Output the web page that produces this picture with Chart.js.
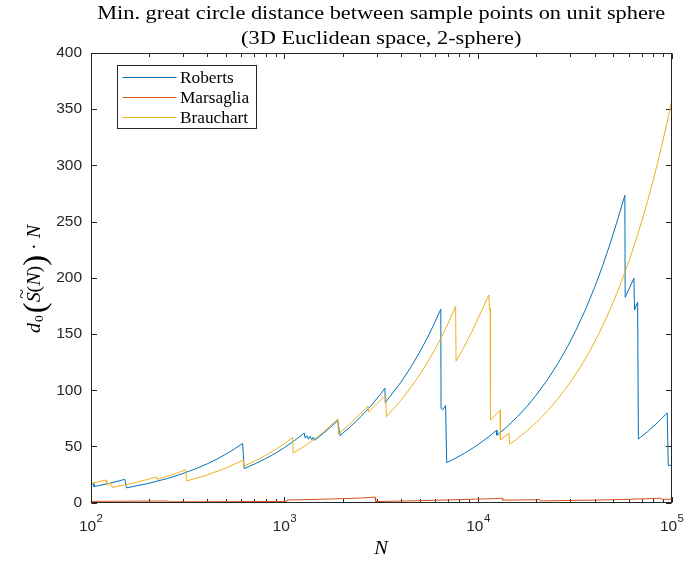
<!DOCTYPE html>
<html>
<head>
<meta charset="utf-8">
<script src="https://cdn.jsdelivr.net/npm/chart.js@4.4.0/dist/chart.umd.min.js"></script>
<style>
  html, body { margin: 0; padding: 0; background: #ffffff; }
  #wrap { width: 686px; height: 565px; }
</style>
</head>
<body>
<div id="wrap"><canvas id="c" width="686" height="565"></canvas></div>
<script>
// ---- data -------------------------------------------------------------
const titleLines = [
  'Min. great circle distance between sample points on unit sphere',
  '(3D Euclidean space, 2-sphere)'
];
const seriesNames = ['Roberts', 'Marsaglia', 'Brauchart'];
const seriesColors = ['#0072BD', '#D95319', '#EDB120'];

const robertsN = [100, 103, 104, 125, 150, 153, 200, 250, 300, 350, 400, 450, 500, 550, 609,
  620, 700, 800, 900, 1000, 1100, 1200, 1266, 1280, 1310, 1330, 1360, 1385, 1410, 1430,
  1600, 1750, 1886, 1938, 2200, 2500, 2800, 3100, 3306, 3320, 4000, 4500, 5000, 5500, 6000,
  6425, 6440, 6560, 6800, 6890, 7500, 8500, 9500, 10500, 11500, 12470, 12520, 14000, 16000, 18000,
  20000, 23000, 26000, 29000, 32000, 36000, 40000, 44000, 48000, 52000, 57300, 57500, 63800, 64300, 66700,
  67300, 75000, 85000, 94800, 96000, 100000];
const robertsD = [16.4, 16.9, 14.3, 17.2, 20.8, 13.2, 17.3, 21.6, 26.0, 30.3, 34.6, 38.9, 43.3, 47.6, 52.7,
  30.4, 34.3, 39.2, 44.1, 49.0, 53.9, 58.8, 62.0, 57.5, 59.5, 56.5, 59.0, 56.2, 58.2, 55.5,
  62.0, 67.9, 73.2, 59.7, 67.8, 77.0, 86.2, 95.5, 101.8, 89.0, 107.2, 120.6, 134.0, 147.4, 160.8,
  172.2, 84.0, 82.5, 86.5, 35.6, 38.8, 43.9, 49.1, 54.3, 59.4, 64.4, 60.0, 67.1, 76.7, 86.2,
  95.8, 110.2, 124.5, 138.9, 153.3, 172.4, 191.6, 210.8, 229.9, 249.1, 273.5, 182.7, 199.6, 171.4, 178.3,
  56.7, 63.2, 71.6, 79.8, 32.9, 33.5];

const marsagliaN = [100, 250, 253, 500, 1000, 1030, 1035, 1500, 2000, 2500, 2940, 2960, 5000,
  10000, 12000, 13300, 13400, 20000, 20800, 21000, 40000, 60000, 88000, 89000, 100000];
const marsagliaD = [1.2, 1.5, 0.8, 0.9, 1.1, 1.3, 2.4, 3.0, 3.6, 4.2, 5.0, 1.0, 1.8,
  3.2, 3.6, 4.0, 2.3, 2.6, 2.9, 1.6, 2.3, 3.0, 4.0, 3.0, 3.1];

const brauchartN = [100, 120, 121, 128, 129, 160, 190, 219, 220, 250, 280, 310, 312, 400, 500,
  613, 615, 700, 800, 900, 1000, 1106, 1110, 1300, 1500, 1700, 1890, 1900, 2200, 2500,
  2700, 2720, 3000, 3340, 3360, 4000, 4500, 5000, 5500, 6000, 6500, 7000, 7660, 7700, 8500,
  9500, 10500, 11380, 11450, 11550, 11600, 12990, 13050, 14450, 14550, 16000, 18000, 20000, 23000, 26000,
  30000, 34000, 38000, 42000, 46000, 50000, 55000, 60000, 65000, 70000, 75000, 80000, 85000, 90000, 95000,
  100000];
const brauchartD = [17.0, 20.2, 16.4, 17.2, 13.6, 16.8, 20.0, 23.0, 20.8, 23.6, 26.5, 29.3, 19.3, 24.7, 30.9,
  37.9, 32.3, 36.8, 42.0, 47.3, 52.5, 58.0, 44.0, 51.5, 59.4, 67.3, 74.6, 61.0, 70.6, 80.2,
  86.0, 80.5, 88.0, 95.5, 76.5, 91.0, 102.5, 113.8, 125.2, 136.6, 148.0, 159.4, 174.4, 126.0, 139.0,
  155.4, 171.8, 184.8, 171.5, 172.5, 73.5, 82.3, 55.8, 61.8, 52.0, 57.2, 64.3, 71.5, 82.2, 92.9,
  107.2, 121.5, 135.8, 150.1, 164.4, 178.7, 196.6, 214.4, 232.3, 250.2, 268.0, 285.9, 303.8, 321.7, 339.5,
  357.4];

const yTicks = [0, 50, 100, 150, 200, 250, 300, 350, 400];
const xDecades = [2, 3, 4, 5];

// ---- styling ----------------------------------------------------------
const SERIF = '"Liberation Serif", "DejaVu Serif", serif';
const SANS = '"Liberation Sans", Arial, Helvetica, sans-serif';
const AXIS_COLOR = '#262626';

function toPoints(xs, ys) { return xs.map((x, i) => ({ x: x, y: ys[i] })); }

// text drawn with a horizontal stretch so serif labels get the wider look of the math font
function stretchedText(ctx, text, x, y, font, align, sx) {
  ctx.save();
  ctx.font = font;
  ctx.textBaseline = 'alphabetic';
  const w = ctx.measureText(text).width * sx;
  let left = x;
  if (align === 'center') left = x - w / 2;
  else if (align === 'right') left = x - w;
  ctx.translate(left, y);
  ctx.scale(sx, 1);
  ctx.textAlign = 'left';
  ctx.fillText(text, 0, 0);
  ctx.restore();
  return w;
}

const decorations = {
  id: 'decorations',
  beforeDatasetsDraw(chart) {
    const ctx = chart.ctx;
    const a = chart.chartArea;
    const xs = chart.scales.x, ys = chart.scales.y;
    ctx.save();
    ctx.strokeStyle = AXIS_COLOR;
    ctx.lineWidth = 1;
    const L = Math.round(a.left) + 0.5, R = Math.round(a.right) - 0.5;
    const T = Math.round(a.top) + 0.5, B = Math.round(a.bottom) - 0.5;
    ctx.beginPath();
    // y ticks (inside, both sides)
    yTicks.forEach(v => {
      const y = Math.round(ys.getPixelForValue(v)) + 0.5;
      ctx.moveTo(L, y); ctx.lineTo(L + 5.5, y);
      ctx.moveTo(R, y); ctx.lineTo(R - 5.5, y);
    });
    // x ticks (log major + minor, bottom and top)
    for (let e = xDecades[0]; e <= xDecades[xDecades.length - 1]; e++) {
      for (let m = 1; m <= 9; m++) {
        const v = m * Math.pow(10, e);
        if (v > 100000) break;
        const x = Math.round(xs.getPixelForValue(v)) + 0.5;
        const len = m === 1 ? 5.5 : 3.5;
        ctx.moveTo(x, B); ctx.lineTo(x, B - len);
        ctx.moveTo(x, T); ctx.lineTo(x, T + len);
      }
    }
    ctx.stroke();
    ctx.restore();
  },
  afterDatasetsDraw(chart) {
    const ctx = chart.ctx;
    const a = chart.chartArea;
    const xs = chart.scales.x;
    const L = Math.round(a.left) + 0.5, R = Math.round(a.right) - 0.5;
    const T = Math.round(a.top) + 0.5, B = Math.round(a.bottom) - 0.5;

    // axes box
    ctx.save();
    ctx.strokeStyle = AXIS_COLOR;
    ctx.lineWidth = 1;
    ctx.strokeRect(L, T, R - L, B - T);
    ctx.restore();

    // x tick labels: 10 with raised exponent
    ctx.save();
    ctx.fillStyle = AXIS_COLOR;
    ctx.textBaseline = 'alphabetic';
    xDecades.forEach(e => {
      const x = xs.getPixelForValue(Math.pow(10, e));
      ctx.font = '15.5px ' + SANS;
      const w1 = ctx.measureText('10').width;
      ctx.font = '11.5px ' + SANS;
      const w2 = ctx.measureText(String(e)).width;
      const left = x - (w1 + w2) / 2;
      ctx.font = '15.5px ' + SANS;
      ctx.textAlign = 'left';
      ctx.fillText('10', left, 531);
      ctx.font = '11.5px ' + SANS;
      ctx.fillText(String(e), left + w1 + 0.5, 522);
    });
    ctx.restore();

    // title
    ctx.save();
    ctx.fillStyle = '#000000';
    const cx = (a.left + a.right) / 2;
    ctx.font = '18px ' + SERIF;
    const sx = 568 / ctx.measureText(titleLines[0]).width;
    stretchedText(ctx, titleLines[0], cx, 19, '18px ' + SERIF, 'center', sx);
    stretchedText(ctx, titleLines[1], cx, 44, '18px ' + SERIF, 'center', sx);

    // x axis label
    stretchedText(ctx, 'N', cx, 554, 'italic 19px ' + SERIF, 'center', 1.08);
    ctx.restore();

    // y axis label: d_0( S~(N) ) . N, rotated
    ctx.save();
    ctx.fillStyle = '#000000';
    ctx.translate(40, 279);
    ctx.rotate(-Math.PI / 2);
    const parts = [
      { t: 'd', f: 'italic 19px ' + SERIF, dy: 0, gap: 0 },
      { t: '0', f: '13px ' + SERIF, dy: 3, gap: 1 },
      { t: '(', f: '31px ' + SERIF, dy: 5, gap: 2 },
      { t: 'S', f: 'italic 19px ' + SERIF, dy: 0, gap: 0, tilde: true },
      { t: '(', f: '19px ' + SERIF, dy: 0, gap: 0 },
      { t: 'N', f: 'italic 19px ' + SERIF, dy: 0, gap: 0 },
      { t: ')', f: '19px ' + SERIF, dy: 0, gap: 0 },
      { t: ')', f: '31px ' + SERIF, dy: 5, gap: 0 },
      { t: '\u00B7', f: '19px ' + SERIF, dy: 0, gap: 5 },
      { t: 'N', f: 'italic 19px ' + SERIF, dy: 0, gap: 5 }
    ];
    const ysx = 1.05;
    let total = 0;
    parts.forEach(p => { ctx.font = p.f; p.w = ctx.measureText(p.t).width * ysx; total += p.gap + p.w; });
    let px = -total / 2;
    ctx.textAlign = 'left';
    ctx.textBaseline = 'alphabetic';
    parts.forEach(p => {
      px += p.gap;
      ctx.save();
      ctx.font = p.f;
      ctx.translate(px, p.dy);
      ctx.scale(ysx, 1);
      ctx.fillText(p.t, 0, 0);
      if (p.tilde) {
        ctx.font = '17px ' + SERIF;
        ctx.fillText('~', 3.5, -13);
      }
      ctx.restore();
      px += p.w;
    });
    ctx.restore();

    // legend box
    ctx.save();
    const bx = 117.5, by = 65.5, bw = 139, bh = 63;
    ctx.fillStyle = '#ffffff';
    ctx.fillRect(bx, by, bw, bh);
    ctx.strokeStyle = AXIS_COLOR;
    ctx.lineWidth = 1;
    ctx.strokeRect(bx, by, bw, bh);
    const rows = [77.5, 97.5, 117.5];
    chart.data.datasets.forEach((ds, i) => {
      ctx.strokeStyle = ds.borderColor;
      ctx.beginPath();
      ctx.moveTo(122.5, rows[i]);
      ctx.lineTo(176.5, rows[i]);
      ctx.stroke();
      ctx.fillStyle = '#000000';
      stretchedText(ctx, ds.label, 180, rows[i] + 5, '16px ' + SERIF, 'left', 1.08);
    });
    ctx.restore();
  }
};

const seriesData = [
  toPoints(robertsN, robertsD),
  toPoints(marsagliaN, marsagliaD),
  toPoints(brauchartN, brauchartD)
];

new Chart(document.getElementById('c'), {
  type: 'scatter',
  data: {
    datasets: seriesNames.map((name, i) => ({
      label: name,
      data: seriesData[i],
      showLine: true,
      borderColor: seriesColors[i],
      backgroundColor: seriesColors[i],
      borderWidth: 1,
      pointRadius: 0,
      pointHoverRadius: 0,
      tension: 0,
      order: 3 - i
    }))
  },
  options: {
    responsive: false,
    animation: false,
    devicePixelRatio: 1,
    layout: { padding: { top: 53, right: 14.3, bottom: 0, left: 0 } },
    plugins: { legend: { display: false }, tooltip: { enabled: false }, title: { display: false } },
    scales: {
      x: {
        type: 'logarithmic',
        min: 100,
        max: 100000,
        grid: { display: false, drawTicks: false },
        border: { display: false },
        ticks: { display: false },
        afterFit(s) { s.height = 62.3; }
      },
      y: {
        type: 'linear',
        min: 0,
        max: 400,
        grid: { display: false, drawTicks: false },
        border: { display: false },
        ticks: {
          stepSize: 50,
          padding: 8.7,
          color: AXIS_COLOR,
          font: { family: SANS, size: 15.5 }
        },
        afterFit(s) { s.width = 90.7; }
      }
    }
  },
  plugins: [decorations]
});
</script>
</body>
</html>
